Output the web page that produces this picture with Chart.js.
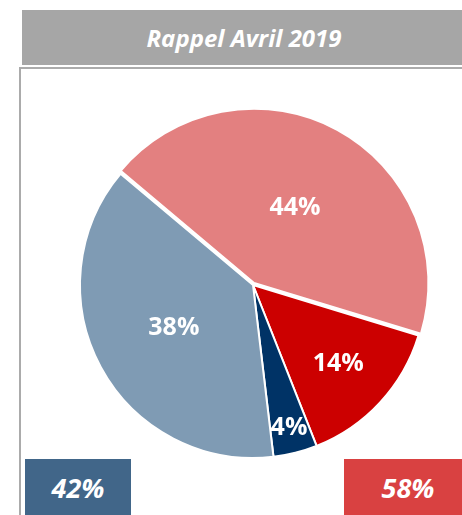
<!DOCTYPE html>
<html>
<head>
<meta charset="utf-8">
<script src="https://cdn.jsdelivr.net/npm/chart.js@4/dist/chart.umd.min.js"></script>
<style>
  html, body { margin: 0; padding: 0; background: #fff; }
  body { width: 462px; height: 515px; position: relative; overflow: hidden; font-family: "Open Sans", sans-serif; }
  #titre {
    position: absolute; left: 22px; top: 10px; width: 444px; height: 55px;
    background: #a6a6a6; color: #fff; font-weight: bold; font-style: italic;
    font-size: 24px; line-height: 55px; text-align: center;
  }
  #cadre {
    position: absolute; left: 19px; top: 67px; width: 460px; height: 460px;
    border-top: 2px solid #ababab; border-left: 2px solid #ababab;
  }
  .total {
    position: absolute; top: 459px; height: 56px; color: #fff;
    font-weight: bold; font-style: italic; font-size: 27px;
    line-height: 58px; text-align: center;
  }
  #chartBox { position: absolute; left: 63px; top: 95px; width: 380px; height: 380px; }
</style>
</head>
<body>
<div id="titre">Rappel Avril 2019</div>
<div id="cadre"></div>
<div id="chartBox"><canvas id="camembert"></canvas></div>
<div id="totaux"></div>
<script>
// Données
const categories = ["A", "B", "C", "D"];
const parts = [43.6, 14.3, 4.1, 38.0];
const couleurs = ["#e38080", "#cc0000", "#003366", "#7f9bb4"];
const totaux = ["42%", "58%"];
const couleursTotaux = ["#416689", "#d94141"];

// Blocs du bas
const posTotaux = [{ left: 25, width: 106 }, { left: 344, width: 128 }];
const conteneur = document.getElementById("totaux");
totaux.forEach(function(t, i) {
    const d = document.createElement("div");
    d.className = "total";
    d.style.left = posTotaux[i].left + "px";
    d.style.width = posTotaux[i].width + "px";
    d.style.background = couleursTotaux[i];
    d.textContent = t;
    conteneur.appendChild(d);
});

// Etiquettes en pourcentage sur les parts
const rayonEtiquettes = [0.51, 0.67, 0.85, 0.52];
const etiquettes = {
    id: "etiquettes",
    afterDatasetsDraw(chart) {
        const ctx = chart.ctx;
        const meta = chart.getDatasetMeta(0);
        const total = parts.reduce((a, b) => a + b, 0);
        ctx.save();
        ctx.fillStyle = "#fff";
        ctx.font = "bold 25px 'Open Sans'";
        ctx.textAlign = "center";
        ctx.textBaseline = "middle";
        meta.data.forEach(function(arc, i) {
            const p = arc.getProps(["x", "y", "startAngle", "endAngle", "outerRadius"], true);
            const a = (p.startAngle + p.endAngle) / 2;
            const r = p.outerRadius * rayonEtiquettes[i];
            const txt = Math.round(parts[i] / total * 100) + "%";
            ctx.fillText(txt, p.x + Math.cos(a) * r, p.y + Math.sin(a) * r);
        });
        ctx.restore();
    }
};

const ctx = document.getElementById("camembert").getContext("2d");
new Chart(ctx, {
    type: "pie",
    data: {
        labels: categories,
        datasets: [{
            data: parts,
            backgroundColor: couleurs,
            borderColor: "#fff",
            borderWidth: 2,
            offset: [9, 0, 0, 0]
        }]
    },
    options: {
        responsive: true,
        maintainAspectRatio: false,
        animation: false,
        rotation: -50,
        radius: 173,
        layout: { padding: 0 },
        plugins: {
            legend: { display: false },
            tooltip: { enabled: false }
        }
    },
    plugins: [etiquettes]
});
</script>
</body>
</html>
